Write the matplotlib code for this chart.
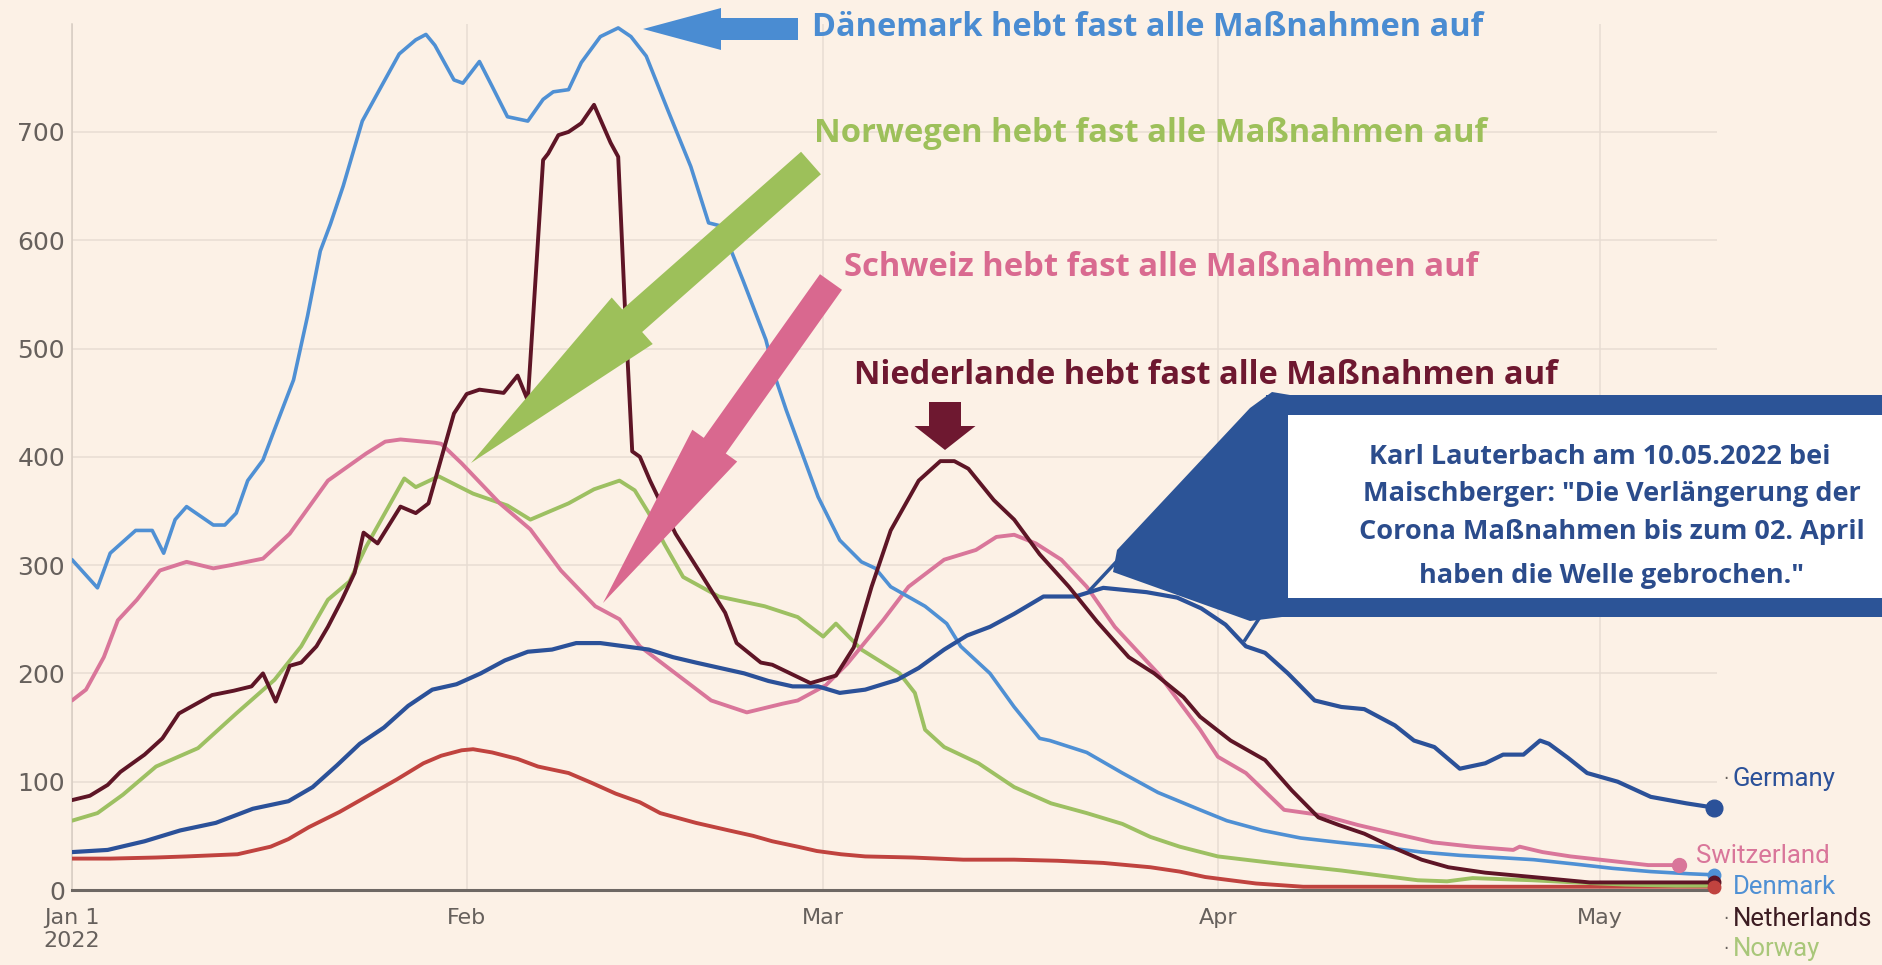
import numpy as np
import matplotlib
matplotlib.use('Agg')
import matplotlib.pyplot as plt
import matplotlib.transforms as mtransforms
from matplotlib.patches import FancyArrow, Polygon, Rectangle

# reference canvas in pixels
W, H = 1883, 965

# --- data: days since Jan 1 2022 ---
dk_days = [0, 2, 3, 5, 6.3, 7.2, 8.1, 9, 11.1, 12, 12.9, 13.8, 15, 15.9, 17.4, 18.5, 19.5, 20.3, 21.3,
           22.8, 24.2, 25.7, 27, 27.8, 28.5, 30, 30.7, 32, 33, 34.2, 35.8, 37, 37.8, 39, 40, 41.5, 42.9,
           43.9, 45.1, 46.8, 48.6, 50, 51, 52.7, 54.5, 55.3, 56.1, 58.6, 60.3, 62, 63.1, 64.3, 67, 68.7,
           69.8, 72.1, 74, 76, 76.8, 79.7, 82.5, 85.3, 88.6, 90.7, 93.5, 96.5, 99.5, 102.7, 106, 109, 112,
           114.8, 118, 121, 124, 127, 129]
dk_vals = [305, 279, 311, 332, 332, 311, 342, 354, 337, 337, 348, 378, 397, 425, 471, 530, 590, 615, 650,
           710, 740, 772, 785, 790, 780, 748, 745, 765, 742, 714, 710, 730, 737, 739, 764, 788, 796,
           788, 770, 720, 668, 616, 613, 563, 508, 471, 443, 363, 323, 303, 297, 280, 262, 246,
           225, 200, 169, 140, 138, 127, 108, 90, 74, 64, 55, 48, 44, 40, 35, 32, 30,
           28, 24, 20, 17, 15, 14]

de_days = [0, 2.8, 5.7, 8.5, 11.3, 14.2, 17, 18.9, 20.8, 22.6, 24.5, 26.4, 28.3, 30.2, 32.1, 34, 35.8,
           37.7, 39.6, 41.5, 43.4, 45.3, 47.2, 49, 50.9, 52.8, 54.7, 56.6, 58.6, 60.3, 62.3, 64.8, 66.5,
           68.5, 70.3, 72.1, 74, 76.3, 78.8, 81, 84.4, 86.8, 88.7, 90.6, 92.2, 93.7, 95.5, 97.6, 99.7,
           101.5, 103.9, 105.4, 107, 109, 111, 112.4, 114, 115.3, 116, 117.5, 119, 121.4, 124, 126.8, 129]
de_vals = [35, 37, 45, 55, 62, 75, 82, 95, 115, 135, 150, 170, 185, 190, 200, 212, 220,
           222, 228, 228, 225, 222, 215, 210, 205, 200, 193, 188, 188, 182, 185, 194, 205,
           222, 235, 243, 255, 271, 271, 279, 275, 270, 260, 245, 225, 219, 200, 175, 169,
           167, 152, 138, 132, 112, 117, 125, 125, 138, 135, 122, 108, 100, 86, 80, 76]

nl_days = [0, 1.4, 2.8, 3.8, 5.7, 7.1, 8.4, 11, 12.7, 14.1, 15, 16, 17.1, 18, 19.2, 20.1, 21.2, 22.2,
           22.9, 24, 25.8, 27, 28, 30, 31, 32, 33.9, 35, 35.8, 37, 37.4, 38.2, 39, 40, 41, 42.3, 42.9,
           43.4, 44, 44.6, 45.4, 47.4, 49.5, 51.3, 52.2, 54.1, 55, 58, 60, 61.4, 62.8, 64.3, 66.5, 68.2,
           69.3, 70.4, 72.4, 74, 76, 78.3, 80.5, 83, 85, 87.3, 88.6, 91, 93.7, 95.8, 97.9, 99.5, 101.5,
           104, 106, 108.1, 111, 114.7, 119.2, 124, 129]
nl_vals = [83, 87, 97, 109, 125, 140, 163, 180, 184, 188, 200, 174, 207, 210, 225, 243, 268, 293,
           330, 320, 354, 348, 357, 440, 458, 462, 459, 475, 452, 674, 680, 697, 700, 708, 725, 690, 677,
           545, 405, 400, 378, 329, 290, 256, 228, 210, 208, 191, 198, 224, 280, 332, 378, 396,
           396, 389, 360, 342, 310, 280, 248, 215, 200, 178, 160, 138, 120, 92, 67, 60, 52,
           38, 28, 21, 16, 12, 7, 7, 7]

no_days = [0, 2, 4, 6.6, 9.9, 12.9, 15.9, 18, 20.1, 21.8, 23.1, 26.1, 27, 28.8, 31.5, 34.2, 36, 39, 41,
           43, 44.2, 45.3, 46.5, 48, 50.8, 54.4, 57, 59, 60, 62, 65, 66.2, 67, 68.5, 71.2, 74, 76.9,
           79.7, 82.5, 84.7, 87, 90, 95, 99.7, 103, 105.7, 108, 110, 114.7, 118, 122, 126, 129]
no_vals = [64, 71, 88, 114, 131, 163, 194, 225, 268, 285, 317, 380, 372, 382, 366, 355, 342, 357, 370,
           378, 369, 348, 320, 289, 271, 262, 252, 234, 246, 222, 200, 182, 148, 132, 117, 95, 80,
           71, 61, 49, 40, 31, 24, 18, 13, 9, 8, 11, 9, 7, 5, 4, 4]

se_days = [0, 3, 6.6, 9, 11, 13, 15.6, 17, 18.6, 21, 23.1, 25.5, 27.6, 29, 30.6, 31.5, 33, 35, 36.6, 39,
           40.8, 42.7, 44.6, 46.2, 49, 51.6, 53.5, 55, 57, 58.5, 60.4, 62.3, 66, 70, 74, 77.4, 81, 84.7,
           87, 89, 91, 93, 96.7, 100, 110, 120, 129]
se_vals = [29, 29, 30, 31, 32, 33, 40, 47, 58, 72, 86, 102, 117, 124, 129, 130, 127, 121, 114, 108,
           99, 89, 81, 71, 62, 55, 50, 45, 40, 36, 33, 31, 30, 28, 28, 27, 25, 21,
           17, 12, 9, 6, 3, 3, 3, 3, 3]

ch_days = [0, 1.1, 2.5, 3.6, 5.1, 6.9, 9, 11.1, 12.5, 15, 17.1, 20.1, 23.1, 24.6, 25.8, 28.5, 29, 30.6,
           33.6, 36, 38.4, 41.1, 43, 44.6, 47.4, 50.2, 53, 55.8, 57, 59.2, 60.9, 63.7, 65.7, 68.5, 71,
           72.6, 74, 75.7, 77.7, 79.7, 81.9, 85.3, 88.6, 90, 92.2, 95.2, 98.2, 101, 103.9, 106.9, 110,
           113.2, 113.7, 115.5, 117.7, 120, 123.8, 126.2]
ch_vals = [175, 185, 215, 249, 268, 295, 303, 297, 300, 306, 329, 378, 403, 414, 416, 413, 412, 394,
           357, 333, 295, 262, 250, 225, 200, 175, 164, 172, 175, 189, 209, 249, 280, 305, 314,
           326, 328, 320, 305, 280, 243, 200, 148, 123, 108, 74, 69, 60, 52, 44, 40,
           37, 40, 35, 31, 28, 23, 23]

month_days = [0, 31, 59, 90, 120]
month_labels = ['Jan 1\n2022', 'Feb', 'Mar', 'Apr', 'May']
y_ticks = [0, 100, 200, 300, 400, 500, 600, 700]

bg = '#fcf1e6'
grid_c = '#e8ddd3'
tick_c = '#66605c'
c_dk = '#4f90d4'
c_de = '#2b5199'
c_nl = '#5e1526'
c_no = '#9dc062'
c_ch = '#d9769a'
c_se = '#c0433f'

fig = plt.figure(figsize=(W / 100, H / 100), dpi=100, facecolor=bg)
ax = fig.add_axes([72 / W, 1 - 890 / H, (1717 - 72) / W, (890 - 23.6) / H])
ax.set_facecolor(bg)

ax.plot(se_days, se_vals, color=c_se, lw=2.8, zorder=3, solid_capstyle='round')
ax.plot(no_days, no_vals, color=c_no, lw=2.8, zorder=3, solid_capstyle='round')
ax.plot(ch_days, ch_vals, color=c_ch, lw=2.8, zorder=3, solid_capstyle='round')
ax.plot(dk_days, dk_vals, color=c_dk, lw=2.6, zorder=3, solid_capstyle='round')
ax.plot(de_days, de_vals, color=c_de, lw=3.0, zorder=3, solid_capstyle='round')
ax.plot(nl_days, nl_vals, color=c_nl, lw=2.8, zorder=3, solid_capstyle='round')

# end points
ax.plot(dk_days[-1], dk_vals[-1], 'o', color=c_dk, ms=9, zorder=4, clip_on=False)
ax.plot(nl_days[-1], nl_vals[-1], 'o', color=c_nl, ms=9, zorder=4, clip_on=False)
ax.plot(se_days[-1], se_vals[-1], 'o', color=c_se, ms=9, zorder=4, clip_on=False)
ax.plot(ch_days[-1], ch_vals[-1], 'o', color=c_ch, ms=10, zorder=4, clip_on=False)
ax.plot(de_days[-1], de_vals[-1], 'o', color=c_de, ms=12, zorder=4, clip_on=False)

ax.set_xlim(0, 129.2)
ax.set_ylim(0, 800)
ax.set_xticks(month_days)
ax.set_xticklabels(month_labels)
ax.set_yticks(y_ticks)
ax.tick_params(length=0, colors=tick_c)
ax.tick_params(axis='x', pad=13, labelsize=16)
ax.tick_params(axis='y', pad=5, labelsize=18)
for lab in ax.get_xticklabels() + ax.get_yticklabels():
    lab.set_color(tick_c)
ax.grid(True, color=grid_c, lw=1.1, zorder=0)
for s in ['top', 'right']:
    ax.spines[s].set_visible(False)
ax.spines['left'].set_color('#d6ccc2')
ax.spines['left'].set_linewidth(1.1)
ax.spines['bottom'].set_color('#6e6864')
ax.spines['bottom'].set_linewidth(2.2)

# reference-pixel coordinate system (y down)
px = mtransforms.Affine2D().scale(1 / W, -1 / H).translate(0, 1) + fig.transFigure
renderer = fig.canvas.get_renderer()


def fit(t, width):
    bb = t.get_window_extent(renderer)
    t.set_fontsize(t.get_fontsize() * width / bb.width)


# right-hand labels, one size for all
lab_kw = dict(transform=px, family='Roboto', va='center', ha='left')
probe = fig.text(1733, 779, 'Germany', color=c_de, fontsize=15, **lab_kw)
fit(probe, 103)
lab_fs = probe.get_fontsize()
for name, col, y, x in [('Switzerland', c_ch, 856, 1696), ('Denmark', c_dk, 887, 1733),
                        ('Netherlands', '#3c1c22', 919, 1733), ('Norway', '#a9c77a', 949, 1733)]:
    fig.text(x, y, name, color=col, fontsize=lab_fs, **lab_kw)
for y in [779, 919, 949]:
    fig.text(1723, y, '·', color=tick_c, transform=px, fontsize=12, va='center', ha='left')

# headings
head_kw = dict(transform=px, family='Open Sans', fontweight='bold', va='center', ha='left',
               fontsize=20, zorder=6)
heads = [('Dänemark hebt fast alle Maßnahmen auf', '#4a8cd2', 812, 27, 671),
         ('Norwegen hebt fast alle Maßnahmen auf', '#9dc05a', 814, 133, 673),
         ('Schweiz hebt fast alle Maßnahmen auf', '#d96a90', 844, 267, 633),
         ('Niederlande hebt fast alle Maßnahmen auf', '#6e1830', 854, 376, 704)]
for txt, col, x, y, w in heads:
    t = fig.text(x, y, txt, color=col, **head_kw)
    fit(t, w)


def block_arrow(tail, tip, shaft, head_w, head_l, color):
    arr = FancyArrow(tail[0], tail[1], tip[0] - tail[0], tip[1] - tail[1], width=shaft,
                     head_width=head_w, head_length=head_l, length_includes_head=True,
                     color=color, lw=0, transform=px, zorder=5)
    fig.add_artist(arr)


block_arrow((798, 29), (643, 29), 22, 42, 78, '#4a8cd2')
block_arrow((811, 163), (471, 463), 30, 62, 215, '#9dc05a')
block_arrow((831, 282), (603, 603), 27, 55, 193, '#d9688f')
block_arrow((945, 402), (945, 450), 32, 61, 24, '#6e1830')

# Lauterbach callout
box_c = '#2c5497'
fig.add_artist(Polygon([(1272, 392), (1250, 408), (1117, 550), (1113, 572), (1250, 621), (1290, 616),
                        (1290, 395)], closed=True, color=box_c, lw=0, transform=px, zorder=5))
fig.add_artist(Rectangle((1266, 395), 700, 222, color=box_c, lw=0, transform=px, zorder=5))
fig.add_artist(Rectangle((1288, 415), 700, 183, color='white', lw=0, transform=px, zorder=6))
fig.add_artist(plt.Line2D([1118, 1090], [560, 590], color=box_c, lw=2.5, transform=px, zorder=5))
fig.add_artist(plt.Line2D([1262, 1245], [614, 640], color=box_c, lw=2.5, transform=px, zorder=5))

box_lines = ['Karl Lauterbach am 10.05.2022 bei',
             'Maischberger: "Die Verlängerung der',
             'Corona Maßnahmen bis zum 02. April',
             'haben die Welle gebrochen."']
box_kw = dict(transform=px, family='Open Sans', fontweight='bold', va='center', ha='center',
              color='#2b4c8c', fontsize=17, zorder=7)
t0 = fig.text(1600, 457, box_lines[0], **box_kw)
fit(t0, 462)
fs = t0.get_fontsize()
for line, y in zip(box_lines[1:], [494, 532, 576]):
    fig.text(1612, y, line, **dict(box_kw, fontsize=fs))

fig.savefig('out.png', dpi=100, facecolor=bg)
